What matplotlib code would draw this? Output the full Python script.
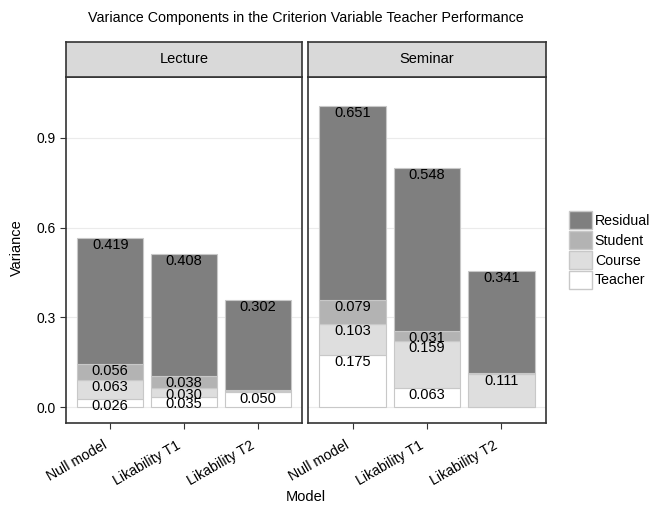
import matplotlib.pyplot as plt
import matplotlib.transforms as mtransforms
from matplotlib.patches import Patch
import numpy as np

plt.rcParams["font.family"] = ["Liberation Sans", "DejaVu Sans"]

models = ["Null model", "Likability T1", "Likability T2"]
settings = ["Lecture", "Seminar"]
components = ["Teacher", "Course", "Student", "Residual"]

# values (stack order bottom -> top)
lecture_teacher = [0.026, 0.035, 0.050]
lecture_course = [0.063, 0.030, 0.003]
lecture_student = [0.056, 0.038, 0.004]
lecture_residual = [0.419, 0.408, 0.302]

seminar_teacher = [0.175, 0.063, 0.000]
seminar_course = [0.103, 0.159, 0.111]
seminar_student = [0.079, 0.031, 0.004]
seminar_residual = [0.651, 0.548, 0.341]

data = {
    "Lecture": [lecture_teacher, lecture_course, lecture_student, lecture_residual],
    "Seminar": [seminar_teacher, seminar_course, seminar_student, seminar_residual],
}
colors = {"Teacher": "#ffffff", "Course": "#dedede", "Student": "#b3b3b3", "Residual": "#7f7f7f"}

fig = plt.figure(figsize=(6.51, 5.09), dpi=100)

panel_left = [66 / 651, 308 / 651]
panel_w = [236 / 651, 238 / 651]
panel_bottom = 1 - 423 / 509
panel_h = (423 - 77) / 509
strip_h = 35 / 509

x = np.arange(1, len(models) + 1)
for i, setting in enumerate(settings):
    ax = fig.add_axes([panel_left[i], panel_bottom, panel_w[i], panel_h])
    ax.set_xlim(0.4, 3.6)
    ax.set_ylim(-0.0535, 1.104)
    ax.set_axisbelow(True)
    ax.yaxis.grid(True, color="#ebebeb", lw=0.8)
    bottom = np.zeros(len(models))
    for comp, vals in zip(components, data[setting]):
        vals = np.array(vals)
        ax.bar(x, vals, bottom=bottom, width=0.9, color=colors[comp],
               edgecolor="#c8c8c8", linewidth=0.8)
        top = bottom + vals
        for xi, v, t in zip(x, vals, top):
            if v >= 0.01:
                ax.text(xi, t, f"{v:.3f}", ha="center", va="top", fontsize=10.5,
                        color="black")
        bottom = top

    # rotated category labels, anchored at their top-right corner like ggplot
    ax.set_xticks(x)
    ax.set_xticklabels([])
    lab_tr = ax.get_xaxis_transform() + mtransforms.ScaledTranslation(
        -8 / 100, -15 / 100, fig.dpi_scale_trans)
    for xi, m in zip(x, models):
        ax.text(xi, 0, m, transform=lab_tr, rotation=30, ha="right", va="top",
                rotation_mode="anchor", fontsize=10.2)

    ax.set_yticks([0.0, 0.3, 0.6, 0.9])
    if i == 0:
        ax.set_yticklabels(["0.0", "0.3", "0.6", "0.9"], fontsize=10)
        ax.tick_params(axis="y", color="#333333", length=4, width=0.8)
    else:
        ax.tick_params(axis="y", length=0, labelleft=False)
    ax.tick_params(axis="x", color="#333333", length=4, width=0.8)
    for s in ax.spines.values():
        s.set_color("#333333")
        s.set_linewidth(1.2)

    sax = fig.add_axes([panel_left[i], panel_bottom + panel_h, panel_w[i], strip_h])
    sax.set_facecolor("#d9d9d9")
    sax.set_xticks([])
    sax.set_yticks([])
    for s in sax.spines.values():
        s.set_color("#333333")
        s.set_linewidth(1.2)
    sax.text(0.5, 0.5, setting, ha="center", va="center", fontsize=10.5,
             transform=sax.transAxes)

fig.text(306 / 651, 1 - 18 / 509, "Variance Components in the Criterion Variable Teacher Performance",
         ha="center", va="center", fontsize=10.3)
fig.text(306 / 651, 1 - 497 / 509, "Model", ha="center", va="center", fontsize=10.5)
fig.text(17 / 651, 1 - 248 / 509, "Variance", ha="center", va="center", rotation=90,
         fontsize=10.5)

handles = [Patch(facecolor=colors[c], edgecolor="#c8c8c8", label=c)
           for c in ["Residual", "Student", "Course", "Teacher"]]
fig.legend(handles=handles, loc="center left", bbox_to_anchor=(569 / 651, 1 - 250 / 509),
           frameon=False, fontsize=10.2, handlelength=1.6, handleheight=1.6,
           labelspacing=0.12, handletextpad=0.22, borderpad=0, borderaxespad=0)

fig.savefig("out.png", dpi=100)
